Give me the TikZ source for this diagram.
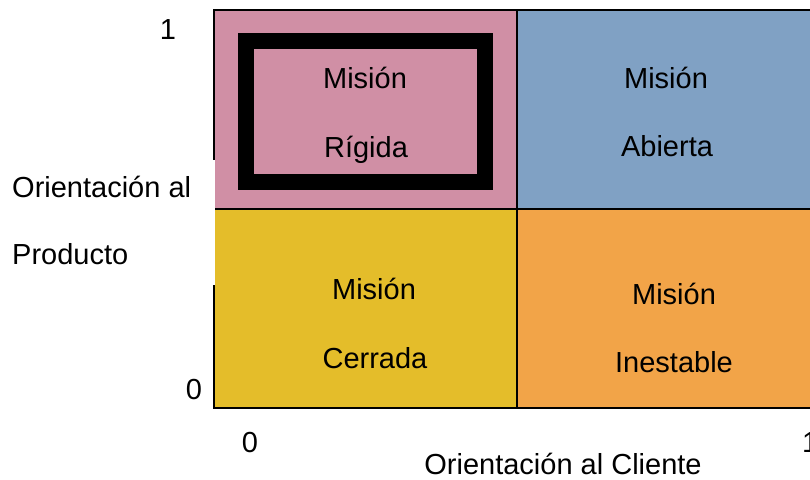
\documentclass[tikz,border=0pt]{standalone}
\usepackage{fontspec}
\setmainfont{Liberation Sans}
\usepackage{tikz}

\definecolor{RigidaPink}{RGB}{208,143,165}
\definecolor{AbiertaBlue}{RGB}{128,161,196}
\definecolor{CerradaYellow}{RGB}{228,189,42}
\definecolor{InestableOrange}{RGB}{242,164,72}

\begin{document}
\begin{tikzpicture}[x=1pt, y=-1pt,
	quad/.style={draw, line width=1.6pt, rectangle, minimum width=303pt, minimum height=199pt, inner sep=0pt},
	txt/.style={anchor=base, inner sep=0pt, font=\fontsize{29}{34}\selectfont}]
	\useasboundingbox (0,0) rectangle (810,479);

	\node[quad, fill=RigidaPink] (rigida) at (365.5,109.5) {};
	\node[quad, fill=AbiertaBlue] (abierta) at (668.5,109.5) {};
	\node[quad, fill=CerradaYellow] (cerrada) at (365.5,308.5) {};
	\node[quad, fill=InestableOrange] (inestable) at (668.5,308.5) {};

	\node[draw, line width=16pt, rectangle, minimum width=239pt, minimum height=141pt, inner sep=0pt] (marco) at (365.5,111.5) {};

	\node[txt] (rigida1) at (365,88) {Misión};
	\node[txt] (rigida2) at (366,157) {Rígida};
	\node[txt] (abierta1) at (666,88) {Misión};
	\node[txt] (abierta2) at (667,156) {Abierta};
	\node[txt] (cerrada1) at (374,299) {Misión};
	\node[txt] (cerrada2) at (375,368) {Cerrada};
	\node[txt] (inestable1) at (674,304) {Misión};
	\node[txt] (inestable2) at (674,372) {Inestable};

	\fill[white] (0,160) rectangle (214.5,285);
	\node[txt, anchor=base west] (prod1) at (12,197) {Orientación al};
	\node[txt, anchor=base west] (prod2) at (12,264) {Producto};
	\node[txt] (cliente) at (563,474) {Orientación al Cliente};

	\node[txt] (yuno) at (168,39) {1};
	\node[txt] (ycero) at (194,399) {0};
	\node[txt] (xcero) at (250,452) {0};
	\node[txt, anchor=base west] (xuno) at (802,452) {1};

\end{tikzpicture}
\end{document}
